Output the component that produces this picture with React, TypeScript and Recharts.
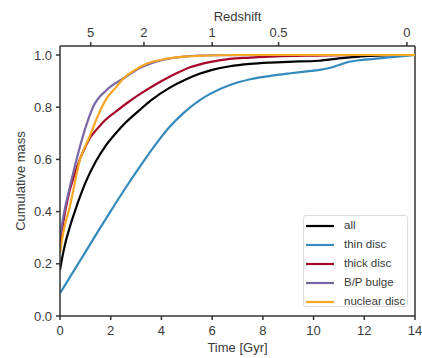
import React from 'react';
import { LineChart, Line, XAxis, YAxis, ReferenceLine, Legend, Label } from 'recharts';

// ---- data (time in Gyr, cumulative mass fraction) ----
const timeAll = [0, 0.1, 0.2, 0.4, 0.6, 0.8, 1.0, 1.4, 1.8, 2.2, 2.6, 3.15, 3.6, 4.3, 5.0, 5.5, 6.0, 6.7, 7.5, 8.3, 9.0, 10.2, 11.0, 11.8, 12.5, 14];
const massAll = [0.176, 0.23, 0.275, 0.345, 0.405, 0.46, 0.51, 0.59, 0.652, 0.70, 0.742, 0.79, 0.827, 0.873, 0.908, 0.928, 0.943, 0.957, 0.966, 0.971, 0.974, 0.978, 0.987, 0.994, 0.998, 1.0];

const timeThin = [0, 0.5, 1, 1.5, 2, 2.5, 3.15, 3.7, 4.3, 4.9, 5.5, 5.9, 6.7, 7.5, 8.3, 9.1, 9.9, 10.3, 10.7, 11.0, 11.4, 11.8, 12.6, 13.3, 14];
const massThin = [0.087, 0.166, 0.245, 0.324, 0.402, 0.478, 0.572, 0.648, 0.722, 0.78, 0.826, 0.85, 0.885, 0.907, 0.92, 0.93, 0.939, 0.944, 0.952, 0.962, 0.974, 0.98, 0.987, 0.994, 1.0];

const timeThick = [0, 0.13, 0.33, 0.6, 0.8, 1.0, 1.2, 1.45, 1.8, 2.2, 2.7, 3.15, 3.8, 4.34, 4.7, 5.13, 5.9, 6.7, 7.5, 8.5, 10, 12, 14];
const massThick = [0.27, 0.36, 0.46, 0.55, 0.605, 0.648, 0.685, 0.715, 0.752, 0.783, 0.82, 0.85, 0.889, 0.918, 0.935, 0.953, 0.973, 0.985, 0.99, 0.995, 0.998, 1.0, 1.0];

const timeBulge = [0, 0.13, 0.39, 0.79, 1.0, 1.3, 1.84, 2.5, 3.15, 4.0, 5.0, 6.0, 8, 14];
const massBulge = [0.30, 0.38, 0.495, 0.65, 0.72, 0.80, 0.866, 0.91, 0.95, 0.98, 0.995, 0.999, 1.0, 1.0];

const timeNuclear = [0, 0.13, 0.39, 0.79, 1.18, 1.45, 1.84, 2.2, 2.5, 3.0, 3.3, 4.0, 4.5, 5.5, 7, 14];
const massNuclear = [0.24, 0.32, 0.42, 0.60, 0.69, 0.757, 0.834, 0.875, 0.91, 0.945, 0.962, 0.982, 0.99, 0.997, 1.0, 1.0];

const xTicks = [0, 2, 4, 6, 8, 10, 12, 14];
const yTicks = [0, 0.2, 0.4, 0.6, 0.8, 1.0];
const redshiftLabels = ['5', '2', '1', '0.5', '0'];
const redshiftTimes = [1.21, 3.31, 6.0, 8.62, 13.68];

const seriesNames = ['all', 'thin disc', 'thick disc', 'B/P bulge', 'nuclear disc'];
const seriesColors = ['#000000', '#348ABD', '#A60628', '#7A68A6', '#F5A623'];

const toPoints = (ts: number[], vs: number[]) => ts.map((t, i) => ({ t, v: vs[i] }));
const seriesData = [
  toPoints(timeAll, massAll),
  toPoints(timeThin, massThin),
  toPoints(timeThick, massThick),
  toPoints(timeBulge, massBulge),
  toPoints(timeNuclear, massNuclear),
];

const FONT = '"Liberation Sans", Arial, sans-serif';
const TXT = '#3a3a3a';
const AX = '#333333';

const renderLegend = () => (
  <div
    style={{
      width: 105,
      height: 92,
      boxSizing: 'border-box',
      border: '1px solid #dddddd',
      borderRadius: 3,
      background: 'rgba(255,255,255,0.85)',
      fontFamily: FONT,
      fontSize: 11.5,
      color: TXT,
      paddingTop: 0,
      whiteSpace: 'nowrap',
      overflow: 'visible',
    }}
  >
    {seriesNames.map((name, i) => (
      <div key={name} style={{ display: 'flex', alignItems: 'center', height: 19, lineHeight: '19px' }}>
        <svg width={40} height={10} style={{ display: 'block', flex: '0 0 40px' }}>
          <line x1={2} y1={5} x2={30} y2={5} stroke={seriesColors[i]} strokeWidth={2.2} />
        </svg>
        <span>{name}</span>
      </div>
    ))}
  </div>
);

export default function App() {
  return (
    <div style={{ position: 'absolute', left: 0, top: 0, width: 422, height: 358, background: '#fff' }}>
      <LineChart width={422} height={358} margin={{ top: 16, right: 7, bottom: 12, left: 10 }}>
        <XAxis
          dataKey="t"
          type="number"
          domain={[0, 14]}
          ticks={xTicks}
          allowDataOverflow
          height={30}
          stroke={AX}
          strokeWidth={1.5}
          tickSize={4}
          tickMargin={6}
          tick={{ fill: TXT, fontSize: 13, fontFamily: FONT }}
        >
          <Label
            content={() => (
              <text x={237.5} y={352} textAnchor="middle" fill={TXT} fontSize={13} fontFamily={FONT}>
                Time [Gyr]
              </text>
            )}
          />
        </XAxis>
        <XAxis
          xAxisId="top"
          orientation="top"
          dataKey="t"
          type="number"
          domain={[0, 14]}
          ticks={redshiftTimes}
          tickFormatter={(v: number) => redshiftLabels[redshiftTimes.indexOf(v)] ?? ''}
          allowDataOverflow
          height={30}
          stroke={AX}
          strokeWidth={1.5}
          tickSize={4}
          tickMargin={5}
          tick={{ fill: TXT, fontSize: 13, fontFamily: FONT }}
        >
          <Label
            content={() => (
              <text x={237.5} y={21} textAnchor="middle" fill={TXT} fontSize={13} fontFamily={FONT}>
                Redshift
              </text>
            )}
          />
        </XAxis>
        <YAxis
          type="number"
          domain={[0, 1.0345]}
          ticks={yTicks}
          allowDataOverflow
          width={50}
          stroke={AX}
          strokeWidth={1.5}
          tickSize={4}
          tickMargin={4}
          tickFormatter={(v: number) => v.toFixed(1)}
          tick={{ fill: TXT, fontSize: 13, fontFamily: FONT }}
        >
          <Label
            content={() => (
              <text
                x={22}
                y={181}
                transform="rotate(-90 22 181)"
                textAnchor="middle"
                dominantBaseline="middle"
                fill={TXT}
                fontSize={13}
                fontFamily={FONT}
              >
                Cumulative mass
              </text>
            )}
          />
        </YAxis>
        <ReferenceLine x={14} stroke={AX} strokeWidth={1.5} />
        {seriesData.map((d, i) => (
          <Line
            key={seriesNames[i]}
            data={d}
            dataKey="v"
            name={seriesNames[i]}
            type="monotone"
            stroke={seriesColors[i]}
            strokeWidth={2.2}
            dot={false}
            activeDot={false}
            isAnimationActive={false}
          />
        ))}
        <Legend
          layout="vertical"
          align="center"
          verticalAlign="middle"
          content={renderLegend}
          wrapperStyle={{ position: 'absolute', left: 303, top: 215, width: 105, height: 92 }}
        />
      </LineChart>
    </div>
  );
}
